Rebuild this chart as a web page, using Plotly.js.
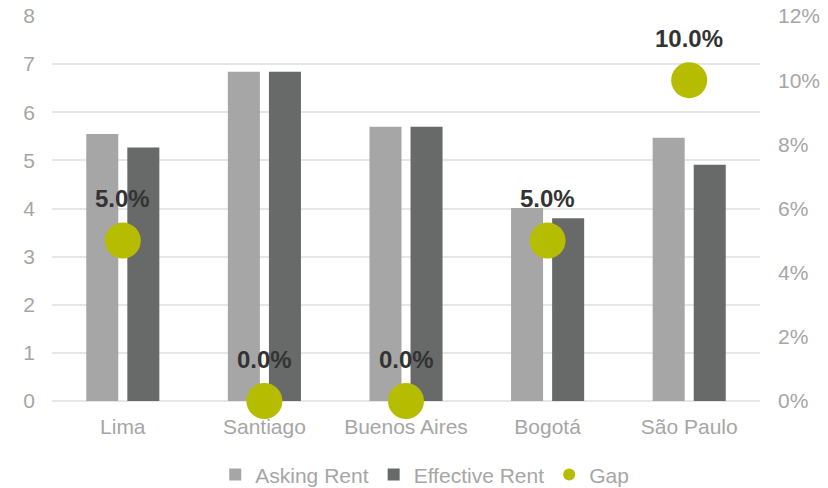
<!DOCTYPE html>
<html>
<head>
<meta charset="utf-8">
<script src="https://cdn.plot.ly/plotly-3.0.1.min.js"></script>
<style>html,body{margin:0;padding:0;background:#fff;}#chart{width:828px;height:488px;}</style>
</head>
<body>
<div id="chart"></div>
<script>
const cities = ["Lima", "Santiago", "Buenos Aires", "Bogotá", "São Paulo"];
const askingRent = [5.55, 6.84, 5.70, 4.01, 5.47];
const effectiveRent = [5.27, 6.84, 5.70, 3.80, 4.91];
const gap = [0.05, 0.00, 0.00, 0.05, 0.10];
const gapLabels = gap.map(v => (v * 100).toFixed(1) + "%");

const font = "Arial, 'Liberation Sans', sans-serif";

const traces = [
  {
    type: "bar", name: "Asking Rent", x: cities, y: askingRent,
    marker: { color: "#a6a6a6" }, hoverinfo: "none"
  },
  {
    type: "bar", name: "Effective Rent", x: cities, y: effectiveRent,
    marker: { color: "#686a69" }, hoverinfo: "none"
  },
  {
    type: "scatter", mode: "markers", name: "Gap", x: cities, y: gap,
    yaxis: "y2",
    marker: { color: "#b6bd00", size: 36 }, cliponaxis: false, hoverinfo: "none"
  }
];

const annotations = cities.map((c, i) => ({
  x: c, y: gap[i], xref: "x", yref: "y2", text: gapLabels[i],
  showarrow: false, yshift: 42, yanchor: "middle", xanchor: "center",
  font: { family: font, size: 24, color: "#333333", weight: "bold" }
}));

const layout = {
  width: 828, height: 488,
  margin: { l: 52, r: 68, t: 16, b: 87 },
  paper_bgcolor: "#ffffff", plot_bgcolor: "#ffffff",
  font: { family: font, size: 21, color: "#a6a6a6" },
  barmode: "group", bargap: 0.42, bargroupgap: 0.22,
  showlegend: true,
  legend: {
    orientation: "h", xref: "container", yref: "container",
    x: 0.513, xanchor: "center", y: 0.027, yanchor: "middle",
    font: { family: font, size: 21, color: "#a6a6a6" },
    itemwidth: 30, itemsizing: "constant", traceorder: "normal"
  },
  annotations: annotations,
  xaxis: {
    showgrid: false, showline: false, zeroline: false, ticks: "",
    tickfont: { family: font, size: 21, color: "#a6a6a6" }, ticklabelstandoff: 11
  },
  yaxis: {
    range: [0, 8], dtick: 1, showline: false, zeroline: true,
    zerolinecolor: "#e6e6e6", zerolinewidth: 2,
    gridcolor: "#e6e6e6", gridwidth: 2, ticks: "",
    tickfont: { family: font, size: 21, color: "#a6a6a6" }, ticklabelstandoff: 16
  },
  yaxis2: {
    range: [0, 0.12], dtick: 0.02, tickformat: ".0%", overlaying: "y", side: "right",
    showgrid: false, zeroline: false, showline: false, ticks: "",
    tickfont: { family: font, size: 21, color: "#a6a6a6" }, ticklabelstandoff: 17
  }
};

Plotly.newPlot("chart", traces, layout, { displayModeBar: false, staticPlot: true });
</script>
</body>
</html>
